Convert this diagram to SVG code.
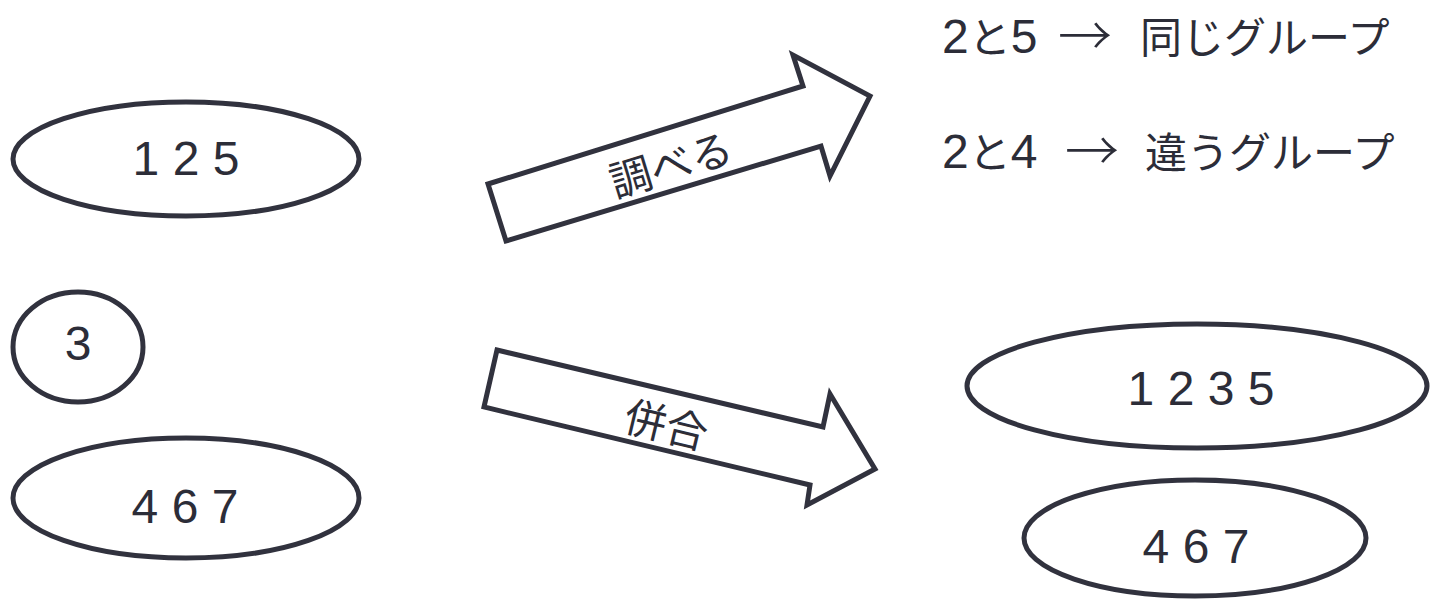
<svg xmlns="http://www.w3.org/2000/svg" width="1430" height="609" viewBox="0 0 1430 609">
<style>
.shape{fill:#ffffff;stroke:#31323e;stroke-width:5;stroke-linejoin:miter}
.lbl{font-family:"Liberation Sans","Noto Sans CJK JP",sans-serif;font-size:48px;fill:#2c2d38}
.jp{font-family:"Noto Sans CJK JP",sans-serif;font-size:42px;fill:#2c2d38}
.arr{font-family:"Noto Sans CJK JP",sans-serif;font-size:54px;font-weight:300;fill:#2c2d38}
</style>
<rect width="1430" height="609" fill="#ffffff"/>
<g id="node-125">
<ellipse class="shape" cx="186" cy="159" rx="173" ry="57"/>
<text class="lbl" x="186" y="175" text-anchor="middle">1 2 5</text>
</g>
<g id="node-3">
<ellipse class="shape" cx="78" cy="347" rx="65" ry="55"/>
<text class="lbl" x="78" y="360" text-anchor="middle">3</text>
</g>
<g id="node-467">
<ellipse class="shape" cx="186" cy="498" rx="173" ry="60"/>
<text class="lbl" x="185" y="523" text-anchor="middle">4 6 7</text>
</g>
<g id="node-1235">
<ellipse class="shape" cx="1197" cy="386" rx="230" ry="62"/>
<text class="lbl" x="1201" y="405" text-anchor="middle">1 2 3 5</text>
</g>
<g id="node-467-merged">
<ellipse class="shape" cx="1195" cy="538" rx="171" ry="58"/>
<text class="lbl" x="1196" y="563" text-anchor="middle">4 6 7</text>
</g>
<g id="connectors">
<g id="arrow-check">
<polygon class="shape" points="488,184 803,86 793,55 870,96 830,176 821,146 506,241"/>
<text class="jp" font-size="44" transform="translate(670,162) rotate(-17)" text-anchor="middle" dominant-baseline="central">調べる</text>
</g>
<g id="arrow-merge">
<polygon class="shape" points="497,350 823,427 830,394 875,469 807,505 810,485 484,407"/>
<text class="jp" font-size="44" transform="translate(667,422) rotate(13.5)" text-anchor="middle" dominant-baseline="central">併合</text>
</g>
</g>
<g id="results">
<text class="lbl" y="53"><tspan x="942">2</tspan><tspan class="jp" font-size="44">と</tspan><tspan>5</tspan> <tspan x="1058" y="56" class="arr">→</tspan> <tspan x="1140" y="53" class="jp" font-size="44">同じグループ</tspan></text>
<text class="lbl" y="168"><tspan x="942">2</tspan><tspan class="jp" font-size="44">と</tspan><tspan>4</tspan> <tspan x="1065" y="171" class="arr">→</tspan> <tspan x="1145" y="168" class="jp" font-size="44">違うグループ</tspan></text>
</g>
</svg>
